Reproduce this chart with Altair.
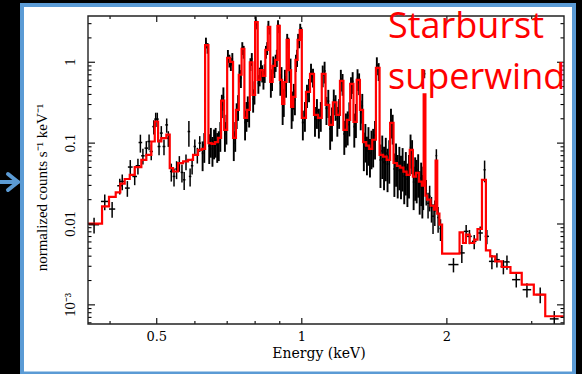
import altair as alt
import pandas as pd
import numpy as np

# ---------------- model (red histogram): bin edges (keV) and values ----------------
model_edges = [
    0.36, 0.385, 0.398, 0.411, 0.42, 0.429, 0.4395, 0.45, 0.4645, 0.4757, 0.4873,
    0.4953, 0.5032, 0.511, 0.5235, 0.532, 0.5405, 0.5535, 0.567, 0.5807, 0.5947, 0.609,
    0.62, 0.63, 0.64, 0.65, 0.66, 0.67, 0.68, 0.69, 0.70, 0.71, 0.72, 0.73, 0.74, 0.75,
    0.76, 0.77, 0.78, 0.79, 0.80, 0.81, 0.82, 0.83, 0.84, 0.85, 0.86, 0.87, 0.88, 0.89,
    0.90, 0.91, 0.92, 0.93, 0.94, 0.95, 0.96, 0.97, 0.98, 0.99,
    1.00, 1.02, 1.04, 1.06, 1.08, 1.10, 1.12, 1.14, 1.16, 1.18, 1.20, 1.22, 1.24, 1.26,
    1.28, 1.30, 1.32, 1.34, 1.36, 1.38,
    1.40, 1.425, 1.45, 1.475, 1.50, 1.525, 1.55, 1.575, 1.60, 1.625, 1.65, 1.675, 1.70,
    1.725, 1.75, 1.775,
    1.79, 1.805, 1.82, 1.85, 1.88, 1.895, 1.91, 1.93, 1.955, 2.125, 2.16, 2.19, 2.23,
    2.28, 2.315, 2.365, 2.41, 2.46, 2.52, 2.60, 2.71, 2.86, 3.03, 3.20, 3.50,
]
model_vals = [
    0.0101, 0.0165, 0.0216, 0.0246, 0.0315, 0.036, 0.0406, 0.0506, 0.0622, 0.0717, 0.1047,
    0.185, 0.1047, 0.115, 0.127, 0.0491, 0.0446, 0.0566, 0.0593, 0.0622, 0.0717, 0.0826,
    0.085, 1.63, 0.10, 0.098, 0.103, 0.116, 0.336, 0.146, 1.13, 1.01,
    0.116, 0.258, 0.70, 1.46, 0.205, 0.258, 1.0, 0.395, 3.14, 0.605,
    0.80, 0.68, 1.42, 2.73, 0.57, 0.90, 1.07, 2.81, 0.605, 0.306,
    0.57, 1.885, 0.80, 0.28, 0.373, 1.07, 1.885, 2.5,
    0.205, 0.43, 0.717, 0.224, 0.205, 0.717, 0.297, 0.168, 0.32, 0.224,
    0.588, 0.146, 0.194, 0.54, 0.183, 0.605, 0.258, 0.103, 0.093, 0.085,
    0.11, 0.85, 0.0717, 0.068, 0.062, 0.178, 0.0568, 0.0524, 0.0498, 0.0443,
    0.0406, 0.0826, 0.0385, 0.043, 0.0335, 0.0298,
    0.40, 0.0224, 0.020, 0.0168, 0.015, 0.061, 0.0134, 0.0098, 0.0043,
    0.00787, 0.00582, 0.00738, 0.00582, 0.0064, 0.00867, 0.0352, 0.00472, 0.00398,
    0.00345, 0.00294, 0.00248, 0.00178, 0.00134, 0.000723,
]

# ---------------- data in the dense part (two points per model bin 0.62-1.79 keV) ----------------
dense_vals_a = [
    0.075, 1.75, 0.092, 0.085, 0.11, 0.10, 0.30, 0.13, 1.2, 0.95,
    0.10, 0.23, 0.75, 1.5, 0.18, 0.28, 0.95, 0.35, 3.3, 0.55,
    0.85, 0.62, 1.35, 2.9, 0.52, 0.95, 1.0, 2.95, 0.55, 0.27,
    0.62, 1.95, 0.75, 0.25, 0.40, 1.0, 1.95, 2.6, 0.18, 0.40,
    0.76, 0.20, 0.19, 0.70, 0.27, 0.15, 0.34, 0.20, 0.62, 0.13,
    0.17, 0.50, 0.16, 0.63, 0.24, 0.09, 0.08, 0.075, 0.10, 0.92,
    0.062, 0.058, 0.055, 0.19, 0.048, 0.046, 0.045, 0.039, 0.036, 0.088,
    0.033, 0.040, 0.029, 0.026,
]
dense_vals_b = [
    0.095, 1.5, 0.11, 0.105, 0.095, 0.13, 0.37, 0.16, 1.05, 1.1,
    0.13, 0.29, 0.64, 1.35, 0.23, 0.24, 1.1, 0.44, 2.9, 0.68,
    0.74, 0.75, 1.5, 2.5, 0.63, 0.84, 1.15, 2.6, 0.67, 0.34,
    0.52, 1.75, 0.88, 0.31, 0.34, 1.15, 1.75, 2.35, 0.23, 0.47,
    0.66, 0.25, 0.23, 0.78, 0.33, 0.19, 0.29, 0.25, 0.55, 0.16,
    0.22, 0.58, 0.21, 0.56, 0.29, 0.115, 0.105, 0.095, 0.125, 0.78,
    0.08, 0.075, 0.07, 0.16, 0.064, 0.058, 0.056, 0.05, 0.046, 0.075,
    0.043, 0.047, 0.037, 0.033,
]
dense_err = [
    0.4, 0.15, 0.4, 0.4, 0.4, 0.4, 0.32, 0.4, 0.18, 0.18,
    0.4, 0.35, 0.25, 0.18, 0.4, 0.35, 0.18, 0.32, 0.12, 0.26,
    0.24, 0.26, 0.18, 0.12, 0.3, 0.24, 0.24, 0.12, 0.3, 0.38,
    0.3, 0.15, 0.26, 0.4, 0.35, 0.24, 0.15, 0.15, 0.4, 0.32,
    0.26, 0.4, 0.4, 0.3, 0.38, 0.45, 0.35, 0.4, 0.3, 0.45,
    0.45, 0.3, 0.45, 0.3, 0.4, 0.5, 0.5, 0.5, 0.5, 0.25,
    0.55, 0.55, 0.55, 0.4, 0.55, 0.55, 0.55, 0.55, 0.55, 0.45,
    0.55, 0.55, 0.55, 0.55,
]

# ---------------- individual crosses (low and high energy ends) ----------------
cross_e = [
    0.3706, 0.39, 0.404, 0.419, 0.424, 0.4345, 0.4406, 0.45, 0.457, 0.4624, 0.468,
    0.4757, 0.482, 0.487, 0.493, 0.4975, 0.5013, 0.5055, 0.511, 0.5176, 0.5243, 0.5284,
    0.536, 0.543, 0.5497, 0.557, 0.564, 0.57, 0.575, 0.583, 0.5864, 0.592, 0.5997, 0.607,
    0.614,
    1.797, 1.812, 1.828, 1.842, 1.858, 1.872, 1.888, 1.902, 1.918, 1.94,
    2.064, 2.148, 2.193, 2.228, 2.279, 2.345, 2.395, 2.421, 2.48, 2.54, 2.62, 2.665,
    2.786, 2.932, 3.124, 3.341,
]
cross_c = [
    0.0098, 0.019, 0.0153, 0.0297, 0.0336, 0.0278, 0.0506, 0.0387, 0.0525, 0.1017, 0.0697,
    0.0867, 0.1047, 0.0788, 0.160, 0.198, 0.198, 0.0908, 0.133, 0.0908, 0.168, 0.115,
    0.0446, 0.0387, 0.0478, 0.0566, 0.0434, 0.0352, 0.0593, 0.139, 0.0387, 0.0525, 0.0908,
    0.0717, 0.1,
    0.72, 0.026, 0.018, 0.022, 0.016, 0.0125, 0.0145, 0.07, 0.012, 0.0088,
    0.00315, 0.00439, 0.0081, 0.00703, 0.0061, 0.00774, 0.0468, 0.00703, 0.00345, 0.00362,
    0.00298, 0.0034, 0.00205, 0.00154, 0.00134, 0.000671,
]
cross_err = [
    0.22, 0.22, 0.22, 0.22, 0.22, 0.22, 0.22, 0.22, 0.22, 0.25, 0.22,
    0.22, 0.22, 0.22, 0.2, 0.2, 0.2, 0.22, 0.22, 0.22, 0.2, 0.22,
    0.25, 0.25, 0.25, 0.22, 0.25, 0.25, 0.22, 0.35, 0.25, 0.22, 0.22, 0.22, 0.22,
    0.12, 0.35, 0.35, 0.35, 0.35, 0.4, 0.35, 0.2, 0.35, 0.3,
    0.2, 0.25, 0.2, 0.2, 0.2, 0.2, 0.3, 0.2, 0.2, 0.2, 0.2, 0.2,
    0.2, 0.2, 0.22, 0.25,
]
cross_hw = [
    0.009, 0.007, 0.006, 0.005, 0.005, 0.005, 0.005, 0.005, 0.005, 0.004, 0.004,
    0.004, 0.004, 0.004, 0.0035, 0.0035, 0.0035, 0.0035, 0.0035, 0.0035, 0.0035, 0.0035,
    0.0035, 0.0035, 0.0035, 0.0035, 0.0035, 0.0035, 0.0035, 0.0035, 0.0035, 0.0035,
    0.0035, 0.0035, 0.0035,
    0.0075, 0.0075, 0.008, 0.008, 0.008, 0.008, 0.0075, 0.0075, 0.008, 0.01,
    0.05, 0.03, 0.025, 0.025, 0.025, 0.03, 0.012, 0.025, 0.035, 0.035, 0.035, 0.035,
    0.055, 0.06, 0.065, 0.07,
]

# ---------------- axes: tick positions and labels ----------------
x_major = [0.5, 1, 2]
x_labels = ["0.5", "1", "2"]
x_minor = [0.4, 0.6, 0.7, 0.8, 0.9, 3]
y_major = [0.001, 0.01, 0.1, 1]
y_labels = ["10⁻³", "0.01", "0.1", "1"]
y_minor = [0.0006, 0.0007, 0.0008, 0.0009,
           0.002, 0.003, 0.004, 0.005, 0.006, 0.007, 0.008, 0.009,
           0.02, 0.03, 0.04, 0.05, 0.06, 0.07, 0.08, 0.09,
           0.2, 0.3, 0.4, 0.5, 0.6, 0.7, 0.8, 0.9, 2, 3]
x_title = "Energy (keV)"
y_title = "normalized counts s⁻¹ keV⁻¹"

# ---------------- build tables ----------------
W, H = 476, 308
xs = alt.Scale(type="log", domain=[0.36, 3.5], nice=False)
ys = alt.Scale(type="log", domain=[5.8e-4, 3.73], nice=False)

step_df = pd.DataFrame({"E": model_edges, "C": model_vals + [model_vals[-1]]})

i0 = model_edges.index(0.62)
i1 = model_edges.index(1.79)
d_lo = np.array(model_edges[i0:i1])
d_hi = np.array(model_edges[i0 + 1:i1 + 1])
d_mid = np.sqrt(d_lo * d_hi)
dense = pd.DataFrame({
    "E": np.concatenate([np.sqrt(d_lo * d_mid), np.sqrt(d_mid * d_hi)]),
    "C": np.concatenate([dense_vals_a, dense_vals_b]),
    "err": np.concatenate([dense_err, dense_err]),
    "lo": np.concatenate([d_lo, d_mid]),
    "hi": np.concatenate([d_mid, d_hi]),
})
ce = np.array(cross_e)
chw = np.array(cross_hw)
crosses = pd.DataFrame({"E": ce, "C": cross_c, "err": cross_err, "lo": ce - chw, "hi": ce + chw})
for df in (dense, crosses):
    df["clo"] = df["C"] * (1 - df["err"])
    df["chi"] = df["C"] * (1 + df["err"])

one = alt.Data(values=[{}])
XE = alt.X("E:Q", scale=xs, axis=None)
YC = alt.Y("C:Q", scale=ys, axis=None)


def errbars(df, sw):
    h = alt.Chart(df).mark_rule(color="black", strokeWidth=sw, clip=True).encode(
        x=alt.X("lo:Q", scale=xs, axis=None), x2="hi:Q", y=YC)
    v = alt.Chart(df).mark_rule(color="black", strokeWidth=sw, clip=True).encode(
        x=XE, y=alt.Y("clo:Q", scale=ys, axis=None), y2="chi:Q")
    return [h, v]


bars = errbars(crosses, 1.5) + errbars(dense, 1.9)

model = alt.Chart(step_df).mark_line(color="#ff0000", strokeWidth=2.2, interpolate="step-after",
                                      clip=True).encode(x=XE, y=YC)


def xticks(vals, ln):
    src = alt.Chart(pd.DataFrame({"E": vals}))
    return [
        src.mark_rule(color="black", strokeWidth=1.1).encode(x=XE, y=alt.value(H), y2=alt.value(H - ln)),
        src.mark_rule(color="black", strokeWidth=1.1).encode(x=XE, y=alt.value(0), y2=alt.value(ln)),
    ]


def yticks(vals, ln):
    src = alt.Chart(pd.DataFrame({"C": vals}))
    return [
        src.mark_rule(color="black", strokeWidth=1.1).encode(y=YC, x=alt.value(0), x2=alt.value(ln)),
        src.mark_rule(color="black", strokeWidth=1.1).encode(y=YC, x=alt.value(W), x2=alt.value(W - ln)),
    ]


ticks = xticks(x_major, 6) + xticks(x_minor, 3) + yticks(y_major, 7) + yticks(y_minor, 3.5)

xlab = alt.Chart(pd.DataFrame({"E": x_major, "t": x_labels})).mark_text(
    font="DejaVu Serif", fontSize=13, color="black", align="center", baseline="middle").encode(
    x=XE, y=alt.value(H + 13), text="t:N")
ylab = alt.Chart(pd.DataFrame({"C": y_major, "t": y_labels})).mark_text(
    font="Liberation Serif", fontSize=14.5, color="black", align="center", baseline="middle",
    angle=270).encode(y=YC, x=alt.value(-17.5), text="t:N")
xtit = alt.Chart(one).mark_text(text=x_title, font="DejaVu Serif", fontSize=14, color="black",
                                align="center", baseline="alphabetic").encode(
    x=alt.value(231), y=alt.value(H + 34))
ytit = alt.Chart(one).mark_text(text=y_title, font="Liberation Serif", fontSize=15, color="black",
                                align="center", baseline="middle", angle=270).encode(
    x=alt.value(-46), y=alt.value(171.5))

frame = alt.Chart(one).mark_rect(fillOpacity=0, stroke="#222222", strokeWidth=1.4).encode(
    x=alt.value(0), x2=alt.value(W), y=alt.value(0), y2=alt.value(H))

t1 = alt.Chart(one).mark_text(text="Starburst", font="Open Sans", fontSize=36, color="#ff0000",
                              align="left", baseline="alphabetic").encode(
    x=alt.value(300), y=alt.value(22.3))
t2 = alt.Chart(one).mark_text(text="superwind", font="Open Sans", fontSize=36, color="#ff0000",
                              align="left", baseline="alphabetic").encode(
    x=alt.value(300), y=alt.value(73))

# slide surroundings: black strips outside a blue frame
s_left = alt.Chart(one).mark_rect(color="black").encode(
    x=alt.value(-90), x2=alt.value(-66), y=alt.value(-20), y2=alt.value(362))
s_right = alt.Chart(one).mark_rect(color="black").encode(
    x=alt.value(486), x2=alt.value(496), y=alt.value(-20), y2=alt.value(362))
s_top = alt.Chart(one).mark_rect(color="black").encode(
    x=alt.value(-90), x2=alt.value(496), y=alt.value(-20), y2=alt.value(-11))
border = alt.Chart(one).mark_rect(fillOpacity=0, stroke="#5b9bd5", strokeWidth=4).encode(
    x=alt.value(-66), x2=alt.value(486), y=alt.value(-11), y2=alt.value(357.5))

arrow_style = dict(color="#5b9bd5", strokeWidth=4, strokeCap="round")
a1 = alt.Chart(one).mark_rule(**arrow_style).encode(
    x=alt.value(-90), x2=alt.value(-71), y=alt.value(166), y2=alt.value(166))
a2 = alt.Chart(one).mark_rule(**arrow_style).encode(
    x=alt.value(-80), x2=alt.value(-70), y=alt.value(158), y2=alt.value(166))
a3 = alt.Chart(one).mark_rule(**arrow_style).encode(
    x=alt.value(-80), x2=alt.value(-70), y=alt.value(174), y2=alt.value(166))

chart = alt.layer(*bars, model, *ticks, frame, xlab, ylab, xtit, ytit, t1, t2,
                  s_left, s_right, s_top, border, a1, a2, a3).properties(
    width=W, height=H,
    padding={"left": 88, "top": 16, "right": 18, "bottom": 50},
    autosize=alt.AutoSizeParams(type="none"),
    background="white",
).configure_view(strokeWidth=0)

chart.save("out.html", embed_options={"renderer": "svg", "actions": False})
